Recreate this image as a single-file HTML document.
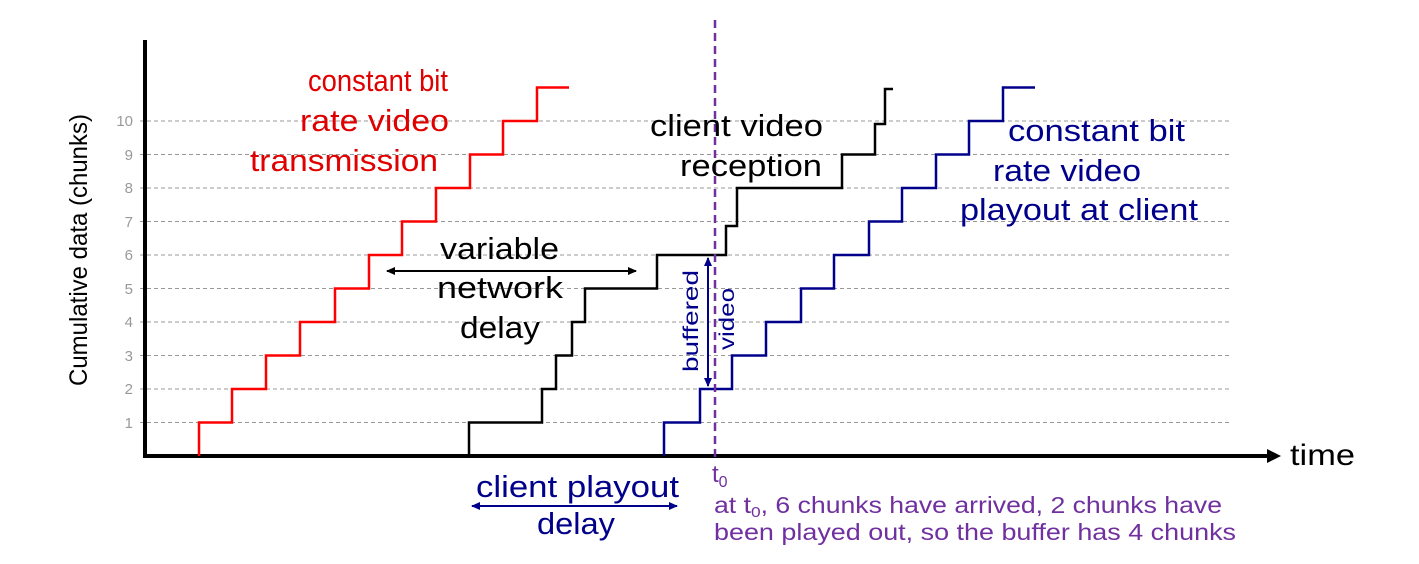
<!DOCTYPE html>
<html><head><meta charset="utf-8"><style>
html,body{margin:0;padding:0;background:#fff;}
svg{display:block;font-family:"Liberation Sans",sans-serif;}
</style></head><body>
<svg width="1419" height="564" viewBox="0 0 1419 564" xmlns="http://www.w3.org/2000/svg">
<defs>
<marker id="ak" markerWidth="10" markerHeight="10" refX="8" refY="5" orient="auto-start-reverse" markerUnits="userSpaceOnUse"><path d="M0,1 L9,5 L0,9 Z" fill="#000"/></marker>
<marker id="ab" markerWidth="10" markerHeight="10" refX="8" refY="5" orient="auto-start-reverse" markerUnits="userSpaceOnUse"><path d="M0,1 L9,5 L0,9 Z" fill="#00008b"/></marker>
</defs>
<g stroke="#999" stroke-width="1" stroke-dasharray="4,3">
<line x1="140" y1="422.5" x2="1232" y2="422.5"/>
<line x1="140" y1="389" x2="1232" y2="389"/>
<line x1="140" y1="355.5" x2="1232" y2="355.5"/>
<line x1="140" y1="322" x2="1232" y2="322"/>
<line x1="140" y1="288.5" x2="1232" y2="288.5"/>
<line x1="140" y1="255" x2="1232" y2="255"/>
<line x1="140" y1="221.5" x2="1232" y2="221.5"/>
<line x1="140" y1="188" x2="1232" y2="188"/>
<line x1="140" y1="154.5" x2="1232" y2="154.5"/>
<line x1="140" y1="121" x2="1232" y2="121"/>
</g>
<g fill="#999" font-size="15" text-anchor="end">
<text x="133" y="428">1</text><text x="133" y="394">2</text><text x="133" y="361">3</text><text x="133" y="327">4</text><text x="133" y="294">5</text><text x="133" y="260">6</text><text x="133" y="227">7</text><text x="133" y="193">8</text><text x="133" y="160">9</text><text x="133" y="126">10</text>
</g>
<text transform="translate(87,250) rotate(-90)" font-size="25" text-anchor="middle" textLength="272" lengthAdjust="spacingAndGlyphs">Cumulative data (chunks)</text>
<line x1="145" y1="40" x2="145" y2="458" stroke="#000" stroke-width="4"/>
<line x1="143" y1="456" x2="1272" y2="456" stroke="#000" stroke-width="4"/>
<path d="M1267,449 L1281,456 L1267,463 Z" fill="#000"/>
<text x="1290" y="465" font-size="30" textLength="65" lengthAdjust="spacingAndGlyphs">time</text>
<polyline fill="none" stroke="#f00" stroke-width="2.5" points="199,456 199,422.5 232,422.5 232,389 266,389 266,355.5 300,355.5 300,322 335,322 335,288.5 369,288.5 369,255 402,255 402,221.5 436,221.5 436,188 470,188 470,154.5 503,154.5 503,121 537,121 537,87.5 569,87.5"/>
<polyline fill="none" stroke="#000" stroke-width="2.5" points="469,456 469,422.5 542,422.5 542,389 556,389 556,355.5 572,355.5 572,322 585,322 585,288.5 657,288.5 657,255 726,255 726,226 737,226 737,188 842,188 842,154.5 875,154.5 875,124 885,124 885,89 893,89"/>
<polyline fill="none" stroke="#00008b" stroke-width="2.5" points="664,456 664,422.5 700,422.5 700,389 732,389 732,355.5 766,355.5 766,322 801,322 801,288.5 834,288.5 834,255 869,255 869,221.5 902,221.5 902,188 936,188 936,154.5 969,154.5 969,121 1003,121 1003,87.5 1035,87.5"/>
<line x1="715" y1="20" x2="715" y2="460" stroke="#7030a0" stroke-width="2.5" stroke-dasharray="8,5"/>
<line x1="387" y1="271" x2="636" y2="271" stroke="#000" stroke-width="2" marker-start="url(#ak)" marker-end="url(#ak)"/>
<line x1="708" y1="258" x2="708" y2="386" stroke="#00008b" stroke-width="2" marker-start="url(#ab)" marker-end="url(#ab)"/>
<line x1="472" y1="506" x2="677" y2="506" stroke="#00008b" stroke-width="2" marker-start="url(#ab)" marker-end="url(#ab)"/>
<g fill="#e00000" font-size="31">
<text x="308" y="91" textLength="140" lengthAdjust="spacingAndGlyphs">constant bit</text>
<text x="300" y="131" textLength="149" lengthAdjust="spacingAndGlyphs">rate video</text>
<text x="250" y="171" textLength="188" lengthAdjust="spacingAndGlyphs">transmission</text>
</g>
<g fill="#000" font-size="31">
<text x="650" y="136" textLength="173" lengthAdjust="spacingAndGlyphs">client video</text>
<text x="680" y="176" textLength="142" lengthAdjust="spacingAndGlyphs">reception</text>
<text x="440" y="259" textLength="119" lengthAdjust="spacingAndGlyphs">variable</text>
<text x="437" y="298" textLength="126" lengthAdjust="spacingAndGlyphs">network</text>
<text x="460" y="338" textLength="80" lengthAdjust="spacingAndGlyphs">delay</text>
</g>
<g fill="#00008b" font-size="31">
<text x="1008" y="141" textLength="177" lengthAdjust="spacingAndGlyphs">constant bit</text>
<text x="993" y="181" textLength="148" lengthAdjust="spacingAndGlyphs">rate video</text>
<text x="960" y="220" textLength="238" lengthAdjust="spacingAndGlyphs">playout at client</text>
<text x="476" y="497" textLength="203" lengthAdjust="spacingAndGlyphs">client playout</text>
<text x="537" y="534" textLength="78" lengthAdjust="spacingAndGlyphs">delay</text>
</g>
<g fill="#00008b" font-size="21">
<text transform="translate(698,372) rotate(-90)" textLength="102" lengthAdjust="spacingAndGlyphs">buffered</text>
<text transform="translate(734,350) rotate(-90)" textLength="62" lengthAdjust="spacingAndGlyphs">video</text>
</g>
<g fill="#7030a0">
<text x="712" y="482" font-size="24">t<tspan font-size="16" dy="5">0</tspan></text>
<text x="714" y="513" font-size="23" textLength="508" lengthAdjust="spacingAndGlyphs">at t<tspan font-size="15" dy="4">0</tspan><tspan dy="-4">, 6 chunks have arrived, 2 chunks have</tspan></text>
<text x="714" y="540" font-size="23" textLength="522" lengthAdjust="spacingAndGlyphs">been played out, so the buffer has 4 chunks</text>
</g>
</svg>
</body></html>
